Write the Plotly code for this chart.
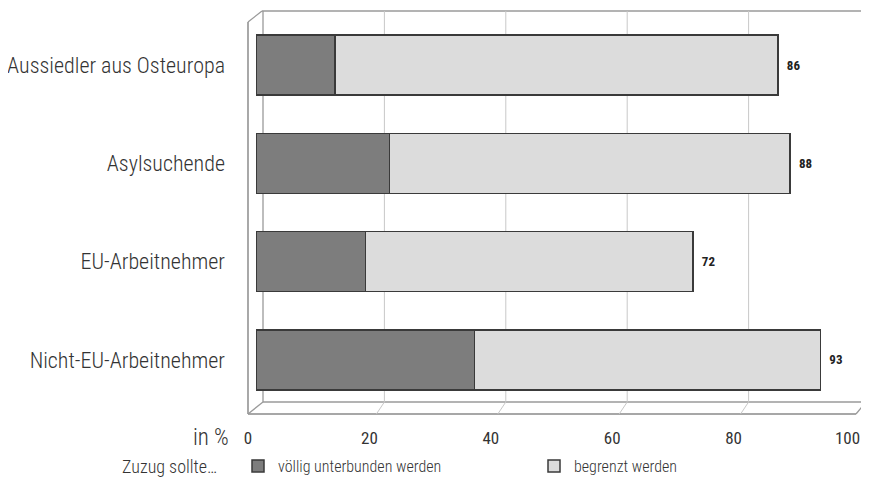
import plotly.graph_objects as go

categories = ["Aussiedler aus Osteuropa", "Asylsuchende", "EU-Arbeitnehmer", "Nicht-EU-Arbeitnehmer"]
voellig = [13, 22, 18, 36]
begrenzt = [73, 66, 54, 57]
total_labels = ["86", "88", "72", "93"]
x_ticks = [0, 20, 40, 60, 80, 100]
x_tick_labels = ["0", "20", "40", "60", "80", "100\u2003"]
grid_ticks = [20, 40, 60, 80]

FONT = "Roboto Condensed, Liberation Sans Narrow, DejaVu Sans Condensed, Arial Narrow, sans-serif"

# page body has an 8px margin: work in reference-pixel coordinates, then shift
OFF = 8
W, H = 869 - OFF, 480 - OFF
PL, PR, PT, PB = 256, 863, 16, 409          # plot area in reference pixels
L, R, T, B = PL - OFF, W - (PR - OFF), PT - OFF, H - (PB - OFF)
PW, PH = W - L - R, H - T - B


def px(x):
    return (x - OFF - L) / PW


def py(y):
    return (H - B - (y - OFF)) / PH


fig = go.Figure()
fig.add_trace(go.Bar(
    y=categories, x=voellig, orientation="h", name="völlig unterbunden werden",
    marker=dict(color="#7d7d7d", line=dict(color="#3a3a3a", width=1.5)),
))
fig.add_trace(go.Bar(
    y=categories, x=begrenzt, orientation="h", name="begrenzt werden",
    marker=dict(color="#dcdcdc", line=dict(color="#3a3a3a", width=1.5)),
    text=total_labels, texttemplate="\u2002%{text}", textposition="outside",
    textfont=dict(family=FONT, size=13, color="#222222", weight="bold"),
    cliponaxis=False,
))

shapes = []
FRAME = dict(color="#9a9a9a", width=1.3)


def seg(x0, y0, x1, y1, line=FRAME):
    shapes.append(dict(type="line", xref="paper", yref="paper",
                       x0=px(x0), y0=py(y0), x1=px(x1), y1=py(y1),
                       line=line, layer="below"))


# back wall / floor frame (3D look)
seg(262, 11, 866, 11)
seg(866, 11, 866, 402)
seg(263, 11, 263, 402)
seg(263, 402, 866, 402)
seg(248, 22, 248, 414, dict(color="#7a7a7a", width=1.3))
seg(248, 22, 262, 11)
seg(248, 414, 856, 414, dict(color="#8a8a8a", width=1.6))
seg(248, 414, 263, 402)
seg(856, 414, 866, 402)

# gridlines on the back wall, anchored to the x scale
for g in grid_ticks:
    shapes.append(dict(type="line", xref="x", xsizemode="pixel", xanchor=g,
                       x0=7, x1=7, yref="paper", y0=py(11), y1=py(402),
                       line=dict(color="#c8c8c8", width=1), layer="below"))
    shapes.append(dict(type="line", xref="x", xsizemode="pixel", xanchor=g,
                       x0=7, x1=-1, yref="paper", y0=py(402), y1=py(414),
                       line=dict(color="#c8c8c8", width=1), layer="below"))

fig.update_layout(
    width=W, height=H,
    margin=dict(l=L, r=R, t=T, b=B, autoexpand=False),
    barmode="stack", bargap=0.39,
    paper_bgcolor="white", plot_bgcolor="white",
    font=dict(family=FONT, color="#333333"),
    shapes=shapes,
    xaxis=dict(range=[0, 100], tickvals=x_ticks, ticktext=x_tick_labels,
               showgrid=False, zeroline=False,
               showline=False, ticks="", ticklabelshift=-8, ticklabelstandoff=17,
               ticklabeloverflow="allow", automargin=False,
               tickfont=dict(family=FONT, size=17, color="#333333", weight=400), fixedrange=True),
    yaxis=dict(categoryorder="array", categoryarray=categories, autorange="reversed",
               showgrid=False, zeroline=False, showline=False, ticks="",
               ticklabelstandoff=30, automargin=False,
               tickfont=dict(family=FONT, size=22, color="#333333", weight=300)),
    legend=dict(orientation="h", x=px(238), xanchor="left", y=py(466), yanchor="middle",
                font=dict(family=FONT, size=16, color="#333333", weight=300),
                entrywidth=251, entrywidthmode="pixels", traceorder="normal",
                bgcolor="rgba(0,0,0,0)"),
    annotations=[
        dict(text="in %", xref="paper", yref="paper", x=px(231), y=py(437),
             xanchor="right", yanchor="middle", showarrow=False,
             font=dict(family=FONT, size=23, color="#333333", weight=300)),
        dict(text="Zuzug sollte…", xref="paper", yref="paper", x=px(120), y=py(467),
             xanchor="left", yanchor="middle", showarrow=False,
             font=dict(family=FONT, size=18, color="#333333", weight=300)),
    ],
)

fig.write_html("out.html")
